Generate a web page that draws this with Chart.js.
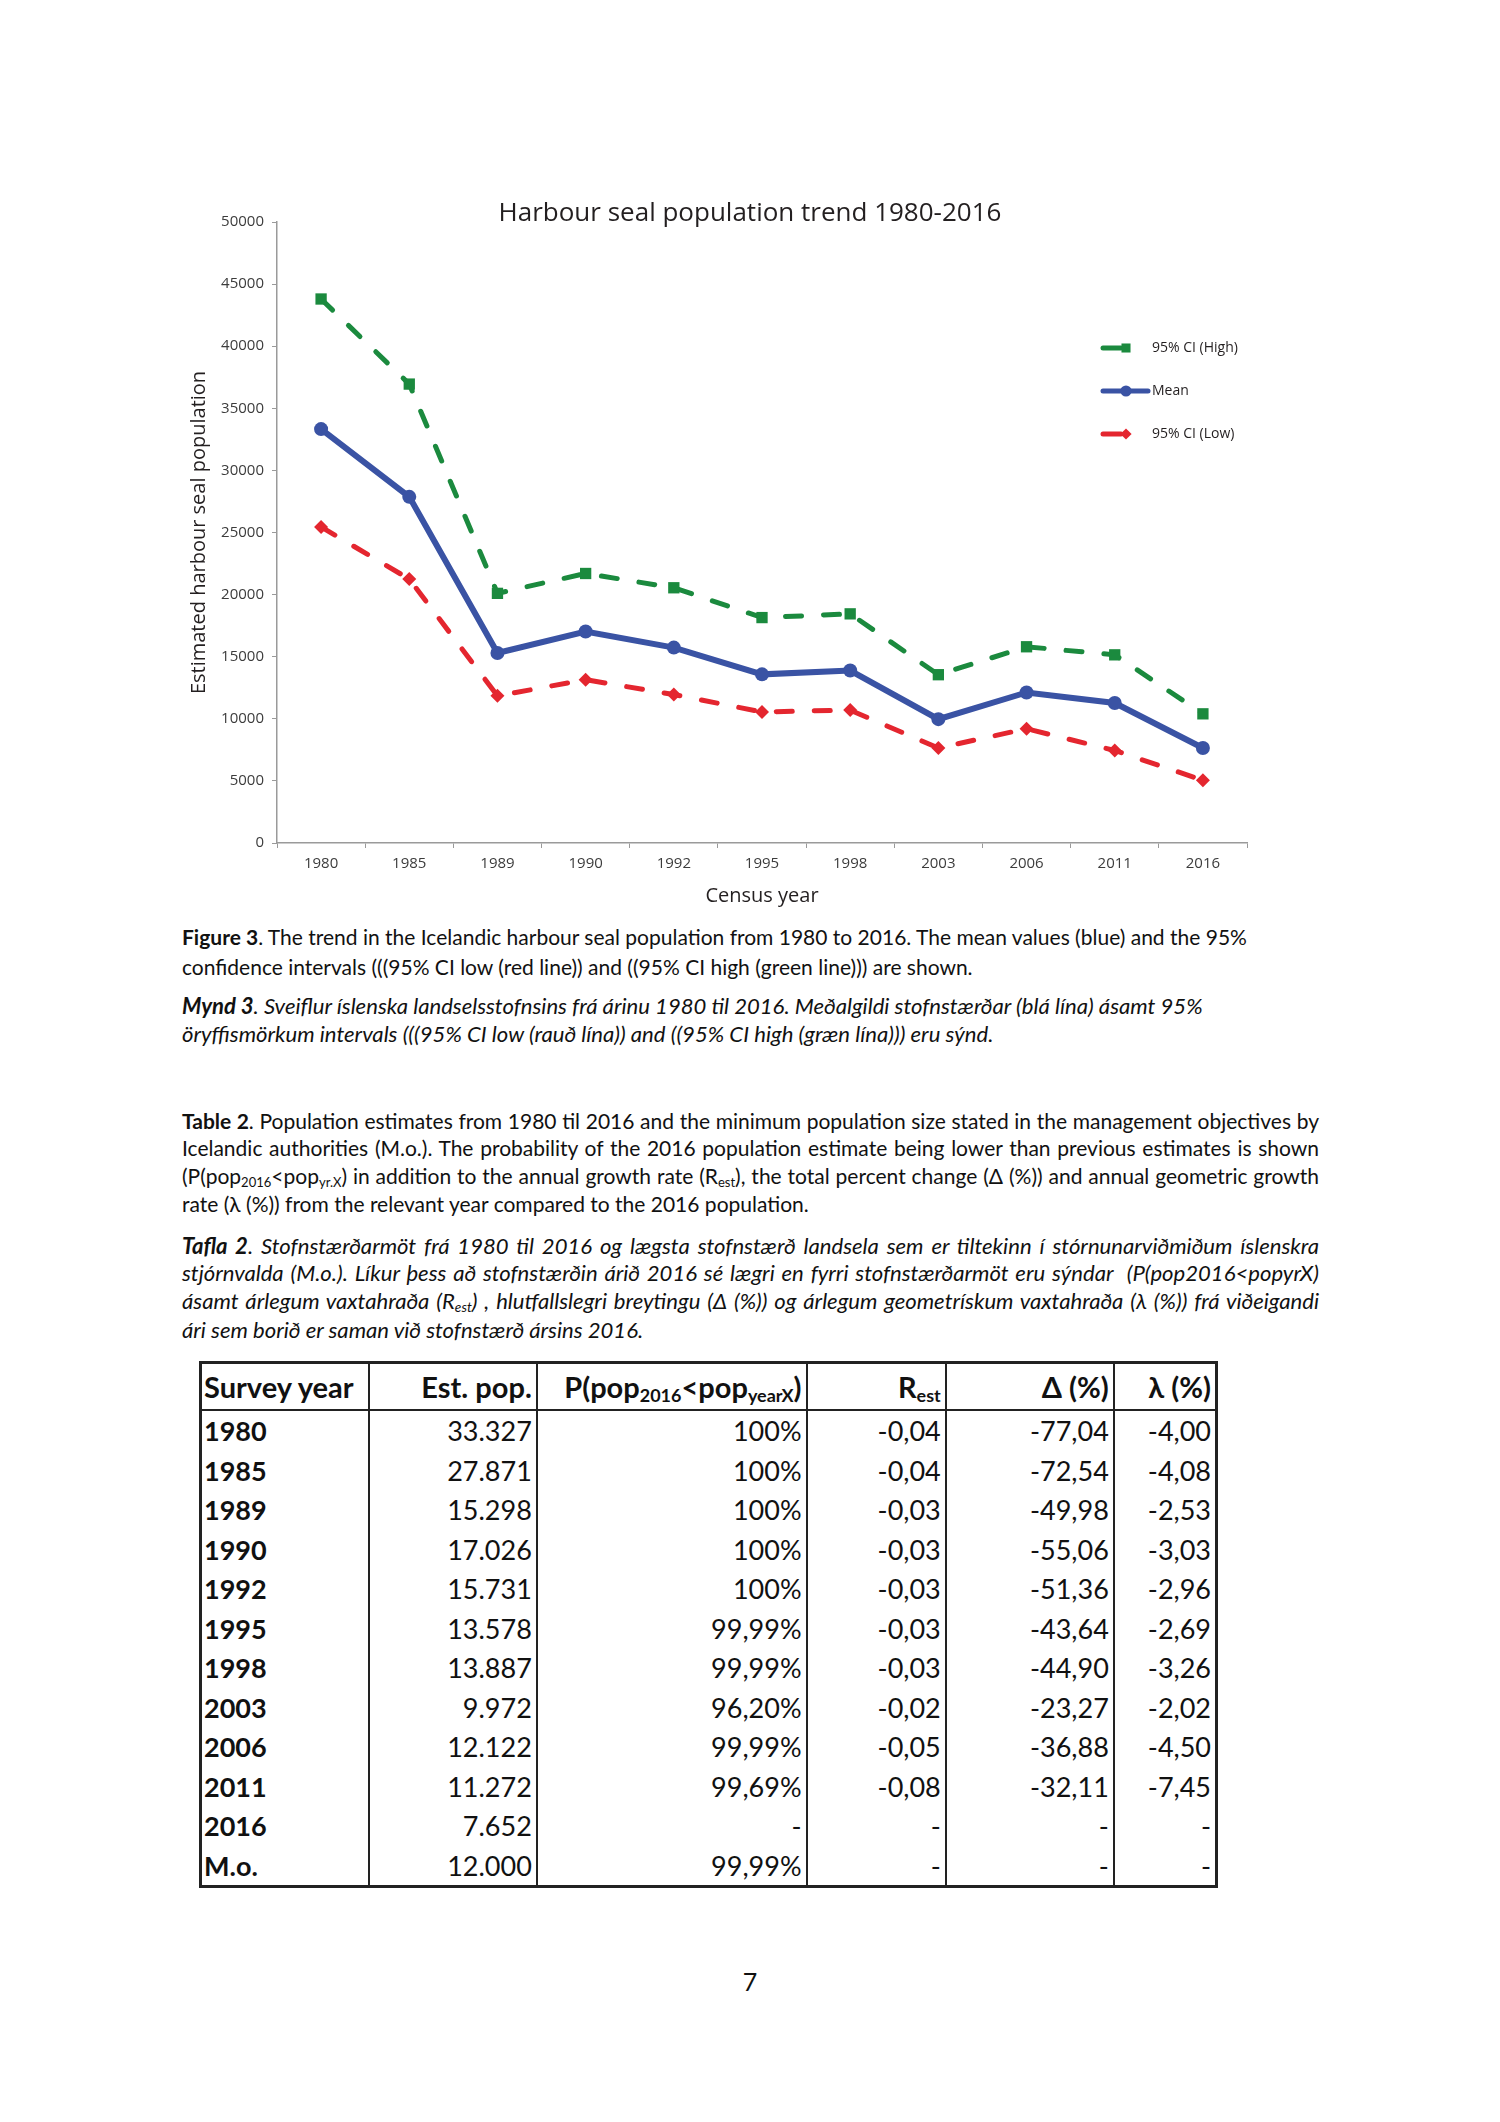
<!DOCTYPE html>
<html>
<head>
<meta charset="utf-8">
<script src="https://cdn.jsdelivr.net/npm/chart.js@4.4.1/dist/chart.umd.min.js"></script>
<style>
body { margin:0; background:#fff; }
#page { position:relative; width:1500px; height:2122px; font-family:Lato, sans-serif; color:#111; overflow:hidden; }
#chartBox { position:absolute; left:150px; top:190px; width:1200px; height:730px; }
.ln { position:absolute; left:182px; width:1137px; font-size:21px; line-height:28px; white-space:nowrap; }
.j { text-align:justify; text-align-last:justify; }
.it { font-style:italic; font-size:22.1px; }
sub { font-size:0.62em; vertical-align:-0.22em; line-height:0; }
#tbl { position:absolute; left:199px; top:1361px; width:1019px; border-collapse:collapse; font-size:27px; color:#111; border:3px solid #222; }
#tbl th, #tbl td { padding:0 4px; text-align:right; border-left:2px solid #222; border-right:2px solid #222; white-space:nowrap; }
#tbl th { height:45px; border-bottom:2px solid #222; font-size:29px; }
#tbl td { height:39.5px; }
#tbl .first { text-align:left; font-weight:bold; padding-left:2px; }
#pageNo { position:absolute; left:0; width:1500px; top:1966px; text-align:center; font-size:25px; }
</style>
</head>
<body>
<div id="page">
  <div id="chartBox"><canvas id="myChart"></canvas></div>

  <div class="ln" style="top:923px"><b>Figure 3</b>. The trend in the Icelandic harbour seal population from 1980 to 2016. The mean values (blue) and the 95%</div>
  <div class="ln" style="top:953px">confidence intervals (((95% CI low (red line)) and ((95% CI high (green line))) are shown.</div>
  <div class="ln it" style="top:992px"><b>Mynd 3</b>. Sveiflur íslenska landselsstofnsins frá árinu 1980 til 2016. Meðalgildi stofnstærðar (blá lína) ásamt 95%</div>
  <div class="ln it" style="top:1020px">öryffismörkum intervals (((95% CI low (rauð lína)) and ((95% CI high (græn lína))) eru sýnd.</div>

  <div class="ln j" style="top:1107px"><b>Table 2</b>. Population estimates from 1980 til 2016 and the minimum population size stated in the management objectives by</div>
  <div class="ln j" style="top:1134px">Icelandic authorities (M.o.). The probability of the 2016 population estimate being lower than previous estimates is shown</div>
  <div class="ln j" style="top:1162px">(P(pop<sub>2016</sub>&lt;pop<sub>yr.X</sub>) in addition to the annual growth rate (R<sub>est</sub>), the total percent change (Δ (%)) and annual geometric growth</div>
  <div class="ln" style="top:1190px">rate (λ (%)) from the relevant year compared to the 2016 population.</div>

  <div class="ln j it" style="top:1232px"><b>Tafla 2</b>. Stofnstærðarmöt frá 1980 til 2016 og lægsta stofnstærð landsela sem er tiltekinn í stórnunarviðmiðum íslenskra</div>
  <div class="ln j it" style="top:1259px">stjórnvalda (M.o.). Líkur þess að stofnstærðin árið 2016 sé lægri en fyrri stofnstærðarmöt eru sýndar&nbsp; (P(pop2016&lt;popyrX)</div>
  <div class="ln j it" style="top:1287px">ásamt árlegum vaxtahraða (R<sub>est</sub>) , hlutfallslegri breytingu (Δ (%)) og árlegum geometrískum vaxtahraða (λ (%)) frá viðeigandi</div>
  <div class="ln it" style="top:1316px">ári sem borið er saman við stofnstærð ársins 2016.</div>

  <table id="tbl">
    <colgroup>
      <col style="width:169px"><col style="width:168px"><col style="width:270px">
      <col style="width:140px"><col style="width:169px"><col style="width:103px">
    </colgroup>
    <thead>
      <tr>
        <th class="first">Survey year</th>
        <th>Est. pop.</th>
        <th>P(pop<sub>2016</sub>&lt;pop<sub>yearX</sub>)</th>
        <th>R<sub>est</sub></th>
        <th>Δ (%)</th>
        <th>λ (%)</th>
      </tr>
    </thead>
    <tbody id="tbody"></tbody>
  </table>

  <div id="pageNo">7</div>
</div>

<script>
// census years and population estimates
const years = ['1980', '1985', '1989', '1990', '1992', '1995', '1998', '2003', '2006', '2011', '2016'];
const meanPop = [33327, 27871, 15298, 17026, 15731, 13578, 13887, 9972, 12122, 11272, 7652];
const ciHigh = [43800, 36950, 20100, 21700, 20550, 18150, 18450, 13550, 15800, 15150, 10400];
const ciLow = [25450, 21250, 11850, 13150, 11950, 10550, 10700, 7650, 9200, 7450, 5050];
const yTicks = [0, 5000, 10000, 15000, 20000, 25000, 30000, 35000, 40000, 45000, 50000];
const chartTitle = 'Harbour seal population trend 1980-2016';

// table 2
const moLabel = 'M.o.';
const moPop = 12000;
const pLower = ['100%', '100%', '100%', '100%', '100%', '99,99%', '99,99%', '96,20%', '99,99%', '99,69%', '-', '99,99%'];
const rEst = ['-0,04', '-0,04', '-0,03', '-0,03', '-0,03', '-0,03', '-0,03', '-0,02', '-0,05', '-0,08', '-', '-'];
const deltaPct = ['-77,04', '-72,54', '-49,98', '-55,06', '-51,36', '-43,64', '-44,90', '-23,27', '-36,88', '-32,11', '-', '-'];
const lambdaPct = ['-4,00', '-4,08', '-2,53', '-3,03', '-2,96', '-2,69', '-3,26', '-2,02', '-4,50', '-7,45', '-', '-'];

const fmt = n => String(n).replace(/\B(?=(\d{3})+(?!\d))/g, '.');

const tbody = document.getElementById('tbody');
const rowLabels = years.concat([moLabel]);
const rowPops = meanPop.concat([moPop]);
rowLabels.forEach((lab, i) => {
  const tr = document.createElement('tr');
  const cells = [lab, fmt(rowPops[i]), pLower[i], rEst[i], deltaPct[i], lambdaPct[i]];
  cells.forEach((c, j) => {
    const td = document.createElement('td');
    td.textContent = c;
    if (j === 0) td.className = 'first';
    tr.appendChild(td);
  });
  tbody.appendChild(tr);
});

const green = '#1b8a3e';
const blue = '#3a53a4';
const red = '#e4262f';

// title sits a bit right of the plot centre in the original, so draw it ourselves
const centerTitle = {
  id: 'centerTitle',
  afterDraw(chart) {
    const { ctx, chartArea } = chart;
    ctx.save();
    ctx.font = '26px "Open Sans"';
    ctx.fillStyle = '#231f20';
    ctx.textAlign = 'center';
    ctx.textBaseline = 'alphabetic';
    ctx.fillText(chartTitle, chartArea.left + 473, chartArea.top - 1);
    ctx.restore();
  }
};

// legend drawn to the right inside the plot, like the original
const legendLines = [18, 45, 18];
const sideLegend = {
  id: 'sideLegend',
  afterDatasetsDraw(chart) {
    const { ctx, chartArea } = chart;
    const x0 = chartArea.left + 826;
    chart.data.datasets.forEach((ds, i) => {
      const y = chartArea.top + 126 + i * 43;
      ctx.save();
      ctx.strokeStyle = ds.borderColor;
      ctx.lineWidth = 5;
      ctx.lineCap = 'round';
      ctx.beginPath();
      ctx.moveTo(x0, y);
      ctx.lineTo(x0 + legendLines[i], y);
      ctx.stroke();
      ctx.fillStyle = ds.backgroundColor;
      ctx.strokeStyle = ds.backgroundColor;
      Chart.helpers.drawPoint(ctx, { pointStyle: ds.pointStyle, radius: ds.pointRadius * 0.8, rotation: 0, borderWidth: 0 }, x0 + 23, y);
      ctx.fillStyle = '#231f20';
      ctx.font = '14px "Open Sans"';
      ctx.textBaseline = 'middle';
      ctx.textAlign = 'left';
      ctx.fillText(ds.label, x0 + 49, y);
      ctx.restore();
    });
  }
};

const ctx = document.getElementById('myChart');

new Chart(ctx, {
  type: 'line',
  data: {
    labels: years,
    datasets: [{
      label: '95% CI (High)',
      data: ciHigh,
      borderColor: green,
      backgroundColor: green,
      borderWidth: 5,
      borderDash: [16, 22],
      borderCapStyle: 'round',
      pointStyle: 'rect',
      pointRadius: 8,
      pointBorderWidth: 0
    }, {
      label: 'Mean',
      data: meanPop,
      borderColor: blue,
      backgroundColor: blue,
      borderWidth: 6,
      pointStyle: 'circle',
      pointRadius: 7,
      pointBorderWidth: 0
    }, {
      label: '95% CI (Low)',
      data: ciLow,
      borderColor: red,
      backgroundColor: red,
      borderWidth: 5,
      borderDash: [16, 22],
      borderCapStyle: 'round',
      pointStyle: 'rectRot',
      pointRadius: 7,
      pointBorderWidth: 0
    }]
  },
  options: {
    responsive: true,
    maintainAspectRatio: false,
    animation: false,
    layout: { padding: { left: 27, right: 103, top: 32, bottom: 7 } },
    plugins: {
      legend: { display: false },
      tooltip: { enabled: false },
      title: { display: false }
    },
    scales: {
      x: {
        offset: true,
        afterFit: s => { s.height = 70; },
        grid: { offset: true, drawOnChartArea: false, tickLength: 5, color: '#9a9a9a' },
        border: { color: '#9a9a9a', width: 1.5 },
        ticks: { color: '#3c3c3c', padding: 7, font: { family: '"Open Sans"', size: 15 } },
        title: {
          display: true,
          text: 'Census year',
          color: '#231f20',
          font: { family: '"Open Sans"', size: 20 },
          padding: { top: 0, bottom: 5 }
        }
      },
      y: {
        min: 0,
        max: 50000,
        afterFit: s => { s.width = 100; },
        afterBuildTicks: s => { s.ticks = yTicks.map(v => ({ value: v })); },
        grid: { drawOnChartArea: false, tickLength: 5, color: '#9a9a9a' },
        border: { color: '#9a9a9a', width: 1.5 },
        ticks: { color: '#3c3c3c', padding: 8, font: { family: '"Open Sans"', size: 15 }, callback: v => String(v) },
        title: {
          display: true,
          text: 'Estimated harbour seal population',
          color: '#231f20',
          font: { family: '"Open Sans"', size: 20 },
          padding: { top: 10, bottom: 0 }
        }
      }
    }
  },
  plugins: [centerTitle, sideLegend]
});
</script>
</body>
</html>
